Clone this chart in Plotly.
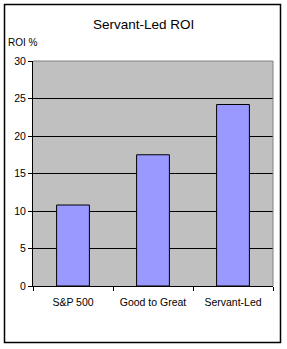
import plotly.graph_objects as go

categories = ["S&P 500", "Good to Great", "Servant-Led"]
roi_values = [10.8, 17.5, 24.2]
y_ticks = [0, 5, 10, 15, 20, 25, 30]

W, H = 287, 349
L, R, T, B = 33, 14, 61, 63
pw, ph = W - L - R, H - T - B

def px_x(p):
    return (p - L) / pw

def px_y(p):
    return (H - B - p) / ph

fig = go.Figure(go.Bar(
    x=categories, y=roi_values,
    marker=dict(color="#9999FF", line=dict(color="black", width=1)),
    hoverinfo="skip",
))

font = "Arial, Liberation Sans, sans-serif"
fig.update_layout(
    width=W, height=H,
    margin=dict(l=L, r=R, t=T, b=B),
    paper_bgcolor="white", plot_bgcolor="#C0C0C0",
    bargap=0.59, showlegend=False,
    font=dict(family=font, size=10, color="black"),
    xaxis=dict(type="category", tickson="boundaries", ticks="outside", ticklen=4,
               tickcolor="black", showline=True, linecolor="black", linewidth=1,
               showgrid=False, tickfont=dict(size=10.5), ticklabelstandoff=6),
    yaxis=dict(range=[0, 30], tickvals=y_ticks, ticks="outside", ticklen=4,
               tickcolor="black", showline=True, linecolor="black", linewidth=1,
               showgrid=True, gridcolor="black", gridwidth=1, zeroline=False,
               tickfont=dict(size=10.5), fixedrange=True),
    annotations=[
        dict(text="Servant-Led ROI", xref="paper", yref="paper",
             x=px_x(143.5), y=px_y(24), xanchor="center", yanchor="middle",
             showarrow=False, font=dict(size=13.5)),
        dict(text="ROI %", xref="paper", yref="paper",
             x=px_x(6), y=px_y(43), xanchor="left", yanchor="middle",
             showarrow=False, font=dict(size=10)),
    ],
    shapes=[
        dict(type="rect", xref="paper", yref="paper",
             x0=px_x(4.5), x1=px_x(280.5), y0=px_y(342.5), y1=px_y(4.5),
             line=dict(color="black", width=1.5), layer="above"),
        dict(type="line", xref="paper", yref="paper", x0=0, x1=1, y0=1, y1=1,
             line=dict(color="#808080", width=1), layer="above"),
        dict(type="line", xref="paper", yref="paper", x0=1, x1=1, y0=0, y1=1,
             line=dict(color="#808080", width=1), layer="above"),
    ],
)

fig.write_html("out.html", config={"displayModeBar": False})
